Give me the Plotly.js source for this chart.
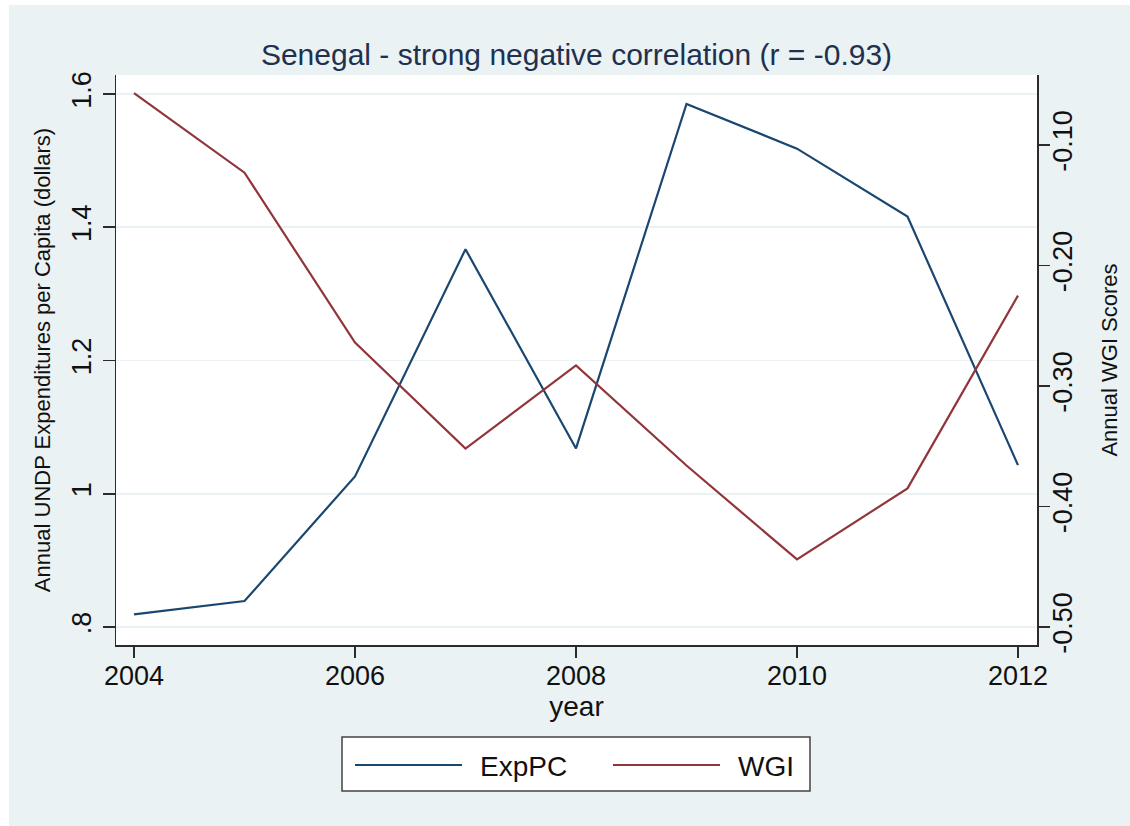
<!DOCTYPE html>
<html>
<head>
<meta charset="utf-8">
<script src="https://cdn.plot.ly/plotly-3.0.1.min.js"></script>
<style>
  html, body { margin: 0; padding: 0; background: #ffffff; }
  #chart { width: 1130px; height: 826px; }
</style>
</head>
<body>
<div id="chart"></div>
<script>
// ---- data ----
const years = [2004, 2005, 2006, 2007, 2008, 2009, 2010, 2011, 2012];
const expPC = [0.819, 0.839, 1.026, 1.367, 1.068, 1.585, 1.518, 1.416, 1.043];
const wgi   = [-0.057, -0.123, -0.264, -0.352, -0.283, -0.366, -0.444, -0.385, -0.225];
const seriesNames = ['ExpPC', 'WGI'];
const xTickVals = [2004, 2006, 2008, 2010, 2012];
const leftTickVals = [0.8, 1, 1.2, 1.4, 1.6];
const leftTickText = ['.8', '1', '1.2', '1.4', '1.6'];
const rightTickVals = [-0.5, -0.4, -0.3, -0.2, -0.1];
const rightTickText = ['-0.50', '-0.40', '-0.30', '-0.20', '-0.10'];
const titleText = 'Senegal - strong negative correlation (r = -0.93)';
const xTitle = 'year';
const yTitle = 'Annual UNDP Expenditures per Capita (dollars)';
const y2Title = 'Annual WGI Scores';

// ---- styles ----
const BLUE = '#1a476f';
const RED = '#90353b';
const BG = '#eaf2f3';
const AXIS = '#2b2b2b';
const FONT = 'Liberation Sans, Arial, Helvetica, sans-serif';

const traces = [
  { x: years, y: expPC, name: seriesNames[0], type: 'scatter', mode: 'lines',
    line: { color: BLUE, width: 2.2 }, yaxis: 'y', showlegend: false },
  { x: years, y: wgi, name: seriesNames[1], type: 'scatter', mode: 'lines',
    line: { color: RED, width: 2.2 }, yaxis: 'y2', showlegend: false }
];

// pixel -> paper helpers (plot area: x 116..1037, y 75..645)
const L = 116, R = 1037, T = 75, B = 645;
const px = p => (p - L) / (R - L);
const py = p => 1 - (p - T) / (B - T);

const shapes = [
  // white strips at the top and left edges of the image
  { type: 'rect', xref: 'paper', yref: 'paper', x0: px(-5), x1: px(9), y0: py(830), y1: py(-5),
    fillcolor: '#ffffff', line: { width: 0 }, layer: 'above' },
  { type: 'rect', xref: 'paper', yref: 'paper', x0: px(-5), x1: px(1135), y0: py(5), y1: py(-5),
    fillcolor: '#ffffff', line: { width: 0 }, layer: 'above' },
  // legend box
  { type: 'rect', xref: 'paper', yref: 'paper', x0: px(342), x1: px(810), y0: py(791), y1: py(737),
    fillcolor: '#ffffff', line: { color: '#444444', width: 1.5 }, layer: 'above' },
  { type: 'line', xref: 'paper', yref: 'paper', x0: px(355), x1: px(462), y0: py(765), y1: py(765),
    line: { color: BLUE, width: 2.2 }, layer: 'above' },
  { type: 'line', xref: 'paper', yref: 'paper', x0: px(613), x1: px(720), y0: py(765), y1: py(765),
    line: { color: RED, width: 2.2 }, layer: 'above' }
];

const annotations = [
  { xref: 'paper', yref: 'paper', x: px(478), y: py(766), xanchor: 'left', yanchor: 'middle',
    text: seriesNames[0], showarrow: false, font: { family: FONT, size: 28, color: '#111111' } },
  { xref: 'paper', yref: 'paper', x: px(736), y: py(766), xanchor: 'left', yanchor: 'middle',
    text: seriesNames[1], showarrow: false, font: { family: FONT, size: 28, color: '#111111' } }
];

const layout = {
  width: 1130, height: 826,
  margin: { l: L, r: 1130 - R, t: T, b: 826 - B, pad: 0 },
  paper_bgcolor: BG,
  plot_bgcolor: '#ffffff',
  font: { family: FONT, color: '#111111' },
  title: { text: titleText, x: 0.5, xref: 'paper', xanchor: 'center',
           y: 1 - 54 / 826, yref: 'container', yanchor: 'middle',
           font: { family: FONT, size: 30, color: '#22304f' } },
  showlegend: false,
  xaxis: {
    range: [2003.837, 2012.172], tickvals: xTickVals, ticktext: xTickVals.map(String),
    ticks: 'outside', ticklen: 11, tickwidth: 1.5, tickcolor: AXIS, ticklabelstandoff: -5,
    showline: true, linecolor: AXIS, linewidth: 1.5, mirror: false,
    showgrid: false, zeroline: false,
    tickfont: { family: FONT, size: 27, color: '#111111' },
    title: { text: xTitle, standoff: 4, font: { family: FONT, size: 28, color: '#111111' } }
  },
  yaxis: {
    range: [0.773, 1.6285], tickvals: leftTickVals, ticktext: leftTickText,
    ticks: 'outside', ticklen: 12, tickwidth: 1.5, tickcolor: AXIS, tickangle: -90,
    ticklabelstandoff: 1,
    showline: true, linecolor: AXIS, linewidth: 1.5,
    showgrid: true, gridcolor: BG, gridwidth: 1.5, zeroline: false,
    tickfont: { family: FONT, size: 27, color: '#111111' },
    title: { text: yTitle, standoff: 10, font: { family: FONT, size: 22, color: '#111111' } }
  },
  yaxis2: {
    overlaying: 'y', side: 'right',
    range: [-0.515, -0.0419], tickvals: rightTickVals, ticktext: rightTickText,
    ticks: 'outside', ticklen: 11, tickwidth: 1.5, tickcolor: AXIS, tickangle: -90,
    ticklabelstandoff: -10,
    showline: true, linecolor: AXIS, linewidth: 1.5,
    showgrid: false, zeroline: false,
    tickfont: { family: FONT, size: 27, color: '#111111' },
    title: { text: y2Title, standoff: 24, font: { family: FONT, size: 22, color: '#111111' } }
  },
  shapes: shapes,
  annotations: annotations
};

Plotly.newPlot('chart', traces, layout, { displayModeBar: false, staticPlot: true });
</script>
</body>
</html>
